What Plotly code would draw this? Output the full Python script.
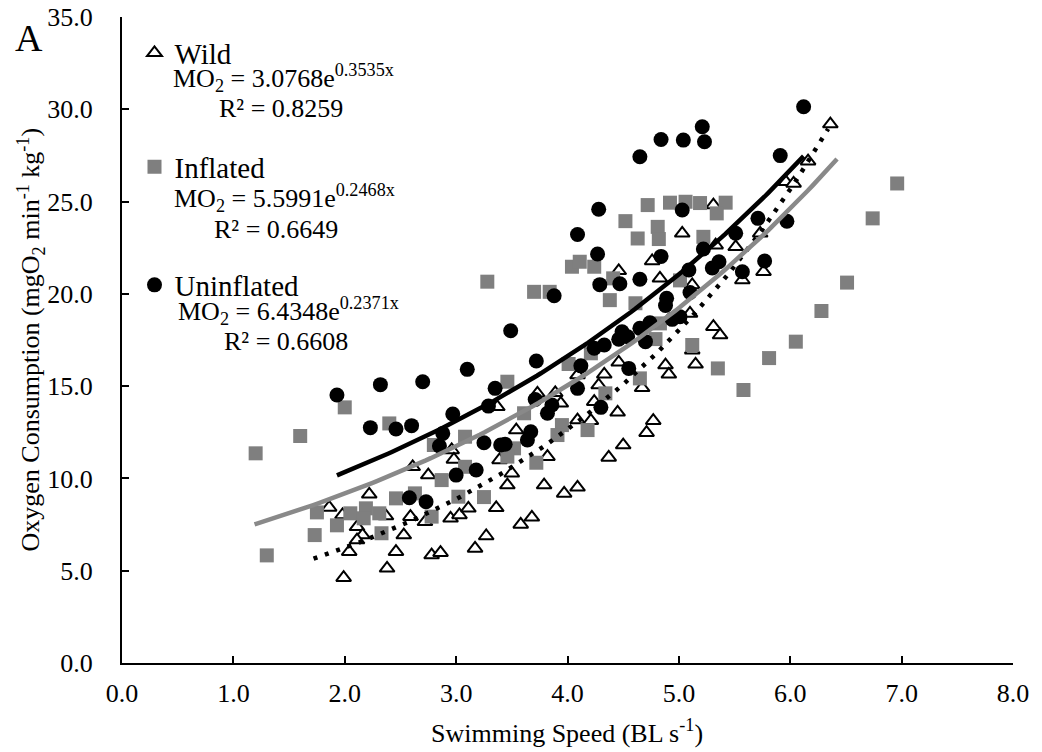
import numpy as np
import plotly.graph_objects as go

# ---------------- data ----------------
wild_x = [1.86, 1.99, 2.04, 1.98, 2.11, 2.16, 2.11, 2.22, 2.37, 2.38, 2.46, 2.61, 2.59, 2.53, 2.75,
          2.72, 2.78, 2.86, 2.95, 2.96, 2.98, 3.03, 3.11, 3.36, 3.27, 3.17, 3.39, 3.37, 3.54, 3.50,
          3.46, 3.68, 3.58, 3.73, 3.89, 3.94, 3.82, 3.79, 3.97, 4.09, 4.09, 4.21, 4.24, 4.09, 4.28,
          4.33, 4.46, 4.45, 4.37, 4.50, 4.71, 4.77, 4.67, 4.88, 4.91, 5.15, 5.12, 5.10, 5.31, 5.37,
          5.12, 4.83, 4.46, 4.76, 5.03, 5.31, 5.33, 5.51, 5.57, 5.76, 5.73, 5.96, 6.03, 6.16, 6.36]
wild_y = [8.43, 4.62, 6.03, 8.02, 7.38, 6.93, 6.66, 9.14, 7.96, 5.13, 6.03, 10.63, 7.93, 6.93, 10.18,
          7.65, 5.85, 5.98, 7.84, 11.54, 11.03, 8.02, 8.38, 8.41, 6.88, 6.21, 11.00, 13.88, 12.62, 10.28,
          9.64, 7.89, 7.51, 14.61, 14.64, 14.07, 11.18, 9.64, 9.19, 9.52, 13.16, 13.13, 14.16, 15.60, 15.06,
          15.64, 16.29, 13.58, 11.14, 11.81, 12.48, 13.13, 14.91, 16.14, 15.64, 16.18, 16.95, 18.94, 18.22, 17.77,
          20.48, 20.84, 21.25, 21.78, 23.28, 24.81, 22.64, 22.55, 20.75, 21.20, 23.28, 26.07, 25.98, 27.19, 29.20]

infl_x = [1.20, 1.30, 1.60, 2.00, 2.40, 1.75, 1.73, 1.93, 2.05, 2.19, 2.17, 2.31, 2.33, 2.46, 2.63,
          2.80, 2.87, 2.78, 3.02, 3.25, 3.08, 3.52, 3.46, 3.72, 3.08, 3.61, 3.46, 3.95, 3.91, 4.18,
          4.01, 4.21, 4.34, 4.65, 3.28, 3.70, 3.84, 4.04, 4.11, 4.24, 4.41, 4.38, 4.61, 4.52, 4.72,
          4.92, 5.06, 5.19, 5.42, 5.34, 4.81, 4.63, 4.82, 5.22, 5.01, 4.83, 4.79, 5.12, 5.35, 5.58,
          5.81, 6.05, 6.28, 6.51, 6.74, 6.96]
infl_y = [11.36, 5.83, 12.30, 13.85, 12.98, 8.16, 6.93, 7.46, 8.11, 8.38, 7.84, 8.11, 7.03, 8.92, 9.19,
          11.81, 9.91, 7.93, 9.01, 8.99, 12.26, 11.63, 11.18, 10.85, 10.63, 13.53, 15.24, 12.89, 12.35, 12.62,
          16.20, 16.78, 14.61, 15.42, 20.66, 20.11, 20.11, 21.47, 21.74, 21.47, 20.84, 19.66, 19.49, 23.94, 24.81,
          24.94, 24.99, 24.92, 24.94, 24.36, 23.63, 23.00, 22.97, 23.09, 20.73, 18.40, 17.55, 17.23, 15.96, 14.79,
          16.52, 17.41, 19.07, 20.61, 24.09, 25.98]

unin_x = [1.93, 2.32, 2.70, 2.23, 2.46, 2.60, 2.58, 2.73, 2.97, 2.88, 2.85, 3.00, 3.18, 3.10, 3.49,
          3.72, 3.35, 3.29, 3.25, 3.40, 3.44, 3.64, 3.67, 3.71, 3.86, 3.82, 3.88, 4.12, 4.09, 4.24,
          4.33, 4.46, 4.49, 4.54, 4.70, 4.65, 4.74, 4.55, 4.30, 4.89, 4.88, 5.09, 5.10, 5.01, 4.94,
          5.22, 4.28, 5.03, 4.09, 4.27, 4.84, 4.29, 4.47, 4.65, 6.12, 5.21, 5.23, 5.04, 4.84, 4.65,
          5.91, 5.71, 5.97, 5.51, 5.36, 5.30, 5.57, 5.77]
unin_y = [14.52, 15.08, 15.24, 12.75, 12.68, 12.86, 8.95, 8.74, 13.49, 12.44, 11.76, 10.18, 10.46, 15.91, 18.00,
          16.36, 14.88, 13.92, 11.93, 11.81, 11.85, 12.08, 12.53, 14.28, 13.98, 13.53, 19.90, 16.10, 14.88, 17.05,
          17.23, 17.54, 17.95, 17.68, 17.41, 18.13, 18.43, 15.96, 13.85, 19.76, 19.37, 21.29, 20.07, 18.76, 18.62,
          22.43, 24.58, 24.54, 23.22, 22.16, 22.03, 20.50, 20.55, 20.79, 30.14, 29.05, 28.24, 28.33, 28.36, 27.43,
          27.49, 24.09, 23.93, 23.28, 21.74, 21.40, 21.20, 21.78]

# exponential trendlines as printed on the chart: y = a * exp(b x), over the drawn x span
fit_wild = dict(a=3.0768, b=0.3535, x0=1.72, x1=6.34)
fit_infl = dict(a=5.5991, b=0.2468, x0=1.19, x1=6.42)
fit_unin = dict(a=6.4348, b=0.2371, x0=1.93, x1=6.12)

x_ticks = [0, 1, 2, 3, 4, 5, 6, 7, 8]
y_ticks = [0, 5, 10, 15, 20, 25, 30, 35]

# ---------------- layout helpers ----------------
W, H = 1042, 752
L, R, T, B = 121.5, 1012.7, 17, 663
def px_x(p):
    return (p - L) / (R - L)
def px_y(p):
    return (B - p) / (B - T)

FONT = "Liberation Serif, Times New Roman, serif"
GRAY_M = "#7f7f7f"
GRAY_L = "#898989"

def curve(f):
    xs = np.linspace(f["x0"], f["x1"], 120)
    return xs, f["a"] * np.exp(f["b"] * xs)

fig = go.Figure()

fig.add_trace(go.Scatter(
    x=wild_x, y=wild_y, mode="markers", name="Wild", legend="legend",
    marker=dict(symbol="triangle-up", size=13, color="white",
                line=dict(color="black", width=2))))
fig.add_trace(go.Scatter(
    x=infl_x, y=infl_y, mode="markers", name="Inflated", legend="legend2",
    marker=dict(symbol="square", size=14, color=GRAY_M, line=dict(width=0))))
fig.add_trace(go.Scatter(
    x=unin_x, y=unin_y, mode="markers", name="Uninflated", legend="legend3",
    marker=dict(symbol="circle", size=15, color="black", line=dict(width=0))))

cx, cy = curve(fit_wild)
fig.add_trace(go.Scatter(x=cx, y=cy, mode="lines", showlegend=False,
                         line=dict(color="black", width=4.5, dash="4px,8px")))
cx, cy = curve(fit_infl)
fig.add_trace(go.Scatter(x=cx, y=cy, mode="lines", showlegend=False,
                         line=dict(color=GRAY_L, width=4.5)))
cx, cy = curve(fit_unin)
fig.add_trace(go.Scatter(x=cx, y=cy, mode="lines", showlegend=False,
                         line=dict(color="black", width=4.5)))

leg_common = dict(xanchor="left", yanchor="middle", bgcolor="rgba(0,0,0,0)",
                  borderwidth=0, font=dict(family=FONT, size=29, color="black"),
                  itemwidth=30)

annotations = []
def ann(text, x, y, size=26, xanchor="left", angle=0):
    annotations.append(dict(text=text, x=px_x(x), y=px_y(y), xref="paper", yref="paper",
                            xanchor=xanchor, yanchor="middle", showarrow=False,
                            textangle=angle,
                            font=dict(family=FONT, size=size, color="black")))

ann("A", 28, 38, size=38, xanchor="center")
ann("MO<sub>2</sub> = 3.0768e<sup>0.3535x</sup>", 171, 78)
ann("R² = 0.8259", 217, 109)
ann("MO<sub>2</sub> = 5.5991e<sup>0.2468x</sup>", 172, 198)
ann("R² = 0.6649", 212, 229)
ann("MO<sub>2</sub> = 6.4348e<sup>0.2371x</sup>", 176, 311)
ann("R² = 0.6608", 222, 341)
ann("Swimming Speed (BL s<sup>-1</sup>)", 567, 732, xanchor="center")
ann("Oxygen Consumption (mgO<sub>2</sub> min<sup>-1</sup> kg<sup>-1</sup>)", 30, 340,
    xanchor="center", angle=-90)

axis_common = dict(showline=True, linecolor="black", linewidth=2, ticks="inside",
                   ticklen=7, tickwidth=2, tickcolor="black", showgrid=False,
                   zeroline=False, tickfont=dict(family=FONT, size=26, color="black"),
                   fixedrange=True, automargin=False)

fig.update_layout(
    width=W, height=H,
    margin=dict(l=L, r=W - R, t=T, b=H - B, pad=0),
    paper_bgcolor="white", plot_bgcolor="white",
    xaxis=dict(range=[0, 8], tickvals=x_ticks, ticktext=[f"{v:.1f}" for v in x_ticks],
               ticklabelstandoff=6, **axis_common),
    yaxis=dict(range=[0, 35], tickvals=y_ticks, ticktext=[f"{v:.1f}" for v in y_ticks],
               ticklabelstandoff=22, **axis_common),
    legend=dict(x=px_x(134), y=px_y(53), **leg_common),
    legend2=dict(x=px_x(134), y=px_y(167), **leg_common),
    legend3=dict(x=px_x(134), y=px_y(285), **leg_common),
    annotations=annotations,
    showlegend=True,
)

fig.write_html("out.html",
               config={"displayModeBar": False},
               post_script="document.body.style.margin='0';document.body.style.overflow='hidden';")
